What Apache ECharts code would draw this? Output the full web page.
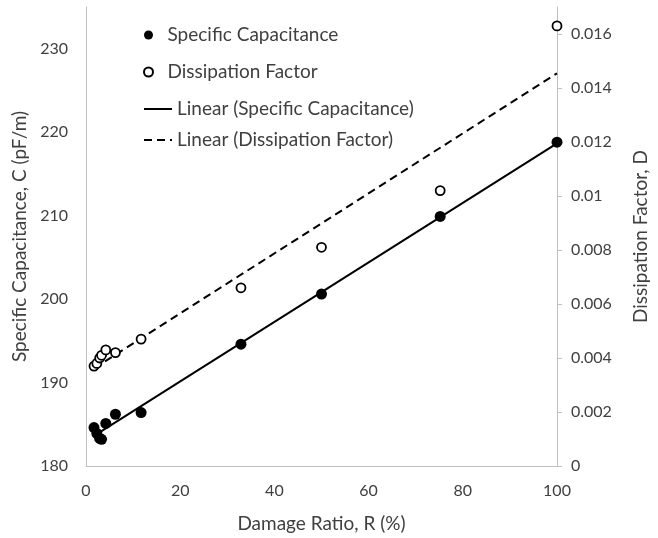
<!DOCTYPE html>
<html>
<head>
<meta charset="utf-8">
<script src="https://cdn.jsdelivr.net/npm/echarts@6/dist/echarts.min.js"></script>
<style>
  html, body { margin: 0; padding: 0; background: #fff; }
  #chart { width: 658px; height: 538px; }
</style>
</head>
<body>
<div id="chart"></div>
<script>
// damage ratio R (%), same x for both measured series
var damageRatio = [1.7, 2.3, 2.9, 3.3, 4.2, 6.25, 11.7, 32.9, 50, 75.2, 100];
// specific capacitance C (pF/m)
var capacitance = [184.6, 183.9, 183.3, 183.2, 185.1, 186.2, 186.4, 194.6, 200.6, 209.9, 218.8];
// dissipation factor D
var dissipation = [0.0037, 0.0038, 0.0040, 0.0041, 0.0043, 0.0042, 0.0047, 0.0066, 0.0081, 0.0102, 0.0163];

var xTicks = [0, 20, 40, 60, 80, 100];
var leftTicks = [180, 190, 200, 210, 220, 230];
var rightTicks = [0, 0.002, 0.004, 0.006, 0.008, 0.01, 0.012, 0.014, 0.016];

var names = ['Specific Capacitance', 'Dissipation Factor',
  'Linear (Specific Capacitance)', 'Linear (Dissipation Factor)'];

// least squares line, like the excel "Linear" trendline
function linearFit(xs, ys) {
  var n = xs.length, sx = 0, sy = 0, sxx = 0, sxy = 0;
  for (var i = 0; i < n; i++) {
    sx += xs[i]; sy += ys[i];
    sxx += xs[i] * xs[i]; sxy += xs[i] * ys[i];
  }
  var slope = (n * sxy - sx * sy) / (n * sxx - sx * sx);
  var icpt = (sy - slope * sx) / n;
  var x0 = Math.min.apply(null, xs), x1 = Math.max.apply(null, xs);
  return [[x0, icpt + slope * x0], [x1, icpt + slope * x1]];
}

function pairs(xs, ys) {
  var out = [];
  for (var i = 0; i < xs.length; i++) out.push([xs[i], ys[i]]);
  return out;
}

var font = 'Lato';
var textCol = '#404040';
var axisCol = '#bfbfbf';

var option = {
  backgroundColor: '#fff',
  textStyle: { fontFamily: font },
  grid: { left: 86, right: 92, top: 7, bottom: 69 },
  legend: [
    {
      orient: 'vertical', left: 138, top: 19, itemGap: 15,
      itemWidth: 28, itemHeight: 9,
      textStyle: { fontFamily: font, fontSize: 19, color: textCol, lineHeight: 22 },
      data: [names[0], names[1]]
    },
    {
      // line only, no marker in the middle of the icon
      orient: 'vertical', left: 138, top: 93, itemGap: 9,
      itemWidth: 28, itemHeight: 14,
      itemStyle: { opacity: 0, color: 'rgba(0,0,0,0)', borderWidth: 0 },
      textStyle: { fontFamily: font, fontSize: 19, color: textCol, lineHeight: 22 },
      data: [names[2], names[3]]
    }
  ],
  xAxis: {
    type: 'value', min: 0, max: 100, interval: 20,
    name: 'Damage Ratio, R (%)', nameLocation: 'middle', nameGap: 48,
    nameTextStyle: { fontFamily: font, fontSize: 19, color: textCol },
    axisLine: { lineStyle: { color: axisCol, width: 1 } },
    axisTick: { show: false },
    splitLine: { show: false },
    axisLabel: { customValues: xTicks, margin: 17, fontSize: 16, color: textCol, fontFamily: font }
  },
  yAxis: [
    {
      type: 'value', min: 180, max: 235, interval: 10, position: 'left',
      name: 'Specific Capacitance, C (pF/m)', nameLocation: 'middle', nameGap: 57,
      nameTextStyle: { fontFamily: font, fontSize: 19, color: textCol },
      axisLine: { show: true, lineStyle: { color: axisCol, width: 1 } },
      axisTick: { show: false },
      splitLine: { show: false },
      axisLabel: { customValues: leftTicks, margin: 18, fontSize: 16, color: textCol, fontFamily: font }
    },
    {
      type: 'value', min: 0, max: 0.017, interval: 0.002, position: 'right',
      name: 'Dissipation Factor, D', nameLocation: 'middle', nameGap: 74,
      nameTextStyle: { fontFamily: font, fontSize: 19, color: textCol },
      axisLine: { show: true, lineStyle: { color: axisCol, width: 1 } },
      axisTick: { show: true, customValues: rightTicks, length: 5, lineStyle: { color: axisCol } },
      splitLine: { show: false },
      axisLabel: {
        customValues: rightTicks, margin: 14, fontSize: 16, color: textCol, fontFamily: font,
        formatter: function (v) { return String(+v.toFixed(3)); }
      }
    }
  ],
  series: [
    {
      name: names[2], type: 'line', yAxisIndex: 0, z: 2,
      symbol: 'none', data: linearFit(damageRatio, capacitance),
      lineStyle: { color: '#000', width: 2, type: 'solid' }, itemStyle: { color: '#000' }
    },
    {
      name: names[3], type: 'line', yAxisIndex: 1, z: 2,
      symbol: 'none', data: linearFit(damageRatio, dissipation),
      lineStyle: { color: '#000', width: 2, type: [8, 5] }, itemStyle: { color: '#000' }
    },
    {
      name: names[0], type: 'scatter', yAxisIndex: 0, z: 5,
      symbol: 'circle', symbolSize: 11,
      itemStyle: { color: '#000', opacity: 1 },
      data: pairs(damageRatio, capacitance)
    },
    {
      name: names[1], type: 'scatter', yAxisIndex: 1, z: 5,
      symbol: 'circle', symbolSize: 9,
      itemStyle: { color: '#fff', borderColor: '#000', borderWidth: 1.8, opacity: 1 },
      data: pairs(damageRatio, dissipation)
    }
  ]
};

var chart = echarts.init(document.getElementById('chart'));
chart.setOption(option);
</script>
</body>
</html>
